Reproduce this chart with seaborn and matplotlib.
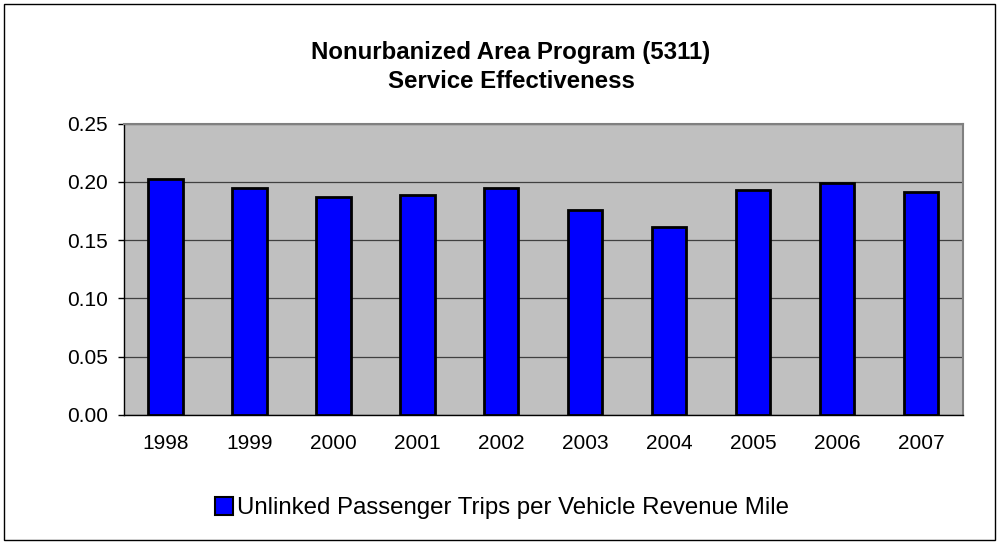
import matplotlib
matplotlib.use("Agg")
import matplotlib.pyplot as plt
import seaborn as sns
import pandas as pd
import numpy as np
from matplotlib.patches import Rectangle

years = ["1998", "1999", "2000", "2001", "2002", "2003", "2004", "2005", "2006", "2007"]
values = [0.2024, 0.1944, 0.1870, 0.1884, 0.1950, 0.1761, 0.1612, 0.1932, 0.1992, 0.1912]
series_name = "Unlinked Passenger Trips per Vehicle Revenue Mile"
title = "Nonurbanized Area Program (5311)\nService Effectiveness"
yticks = [0.00, 0.05, 0.10, 0.15, 0.20, 0.25]

sns.set_theme(style="white")
plt.rcParams['font.family'] = ['Liberation Sans', 'DejaVu Sans']
plt.rcParams['text.color'] = 'black'
plt.rcParams['xtick.color'] = 'black'
plt.rcParams['ytick.color'] = 'black'
plt.rcParams['xtick.labelcolor'] = 'black'
plt.rcParams['ytick.labelcolor'] = 'black'

df = pd.DataFrame({"year": years, "value": values})

fig = plt.figure(figsize=(9.99, 5.44), dpi=100)
fig.patch.set_facecolor("white")
ax = fig.add_axes([123.5/999, 1 - 415/544, (963-123.5)/999, (415-123.5)/544])

sns.barplot(data=df, x="year", y="value", color="#0000FF", saturation=1,
            edgecolor="black", linewidth=2, width=0.41, ax=ax, zorder=3)

ax.set_facecolor("#C0C0C0")
ax.set_ylim(0, 0.25)
ax.set_xlim(-0.5, len(years) - 0.5)
ax.set_yticks(yticks)
ax.set_yticklabels([f"{t:.2f}" for t in yticks], fontsize=15)
ax.yaxis.grid(True, color="#404040", linewidth=0.9, zorder=0)
ax.set_axisbelow(True)
ax.set_xlabel("")
ax.set_ylabel("")

ax.set_xticks(np.arange(len(years)))
ax.set_xticklabels(years, fontsize=15)
ax.set_xticks(np.arange(-0.5, len(years), 1.0), minor=True)
ax.tick_params(axis="x", which="major", length=0, pad=14)
ax.tick_params(axis="x", which="minor", length=4, width=1, color="black", direction="out")
ax.tick_params(axis="y", which="major", length=4, width=1, color="black", direction="out", pad=7, left=True)

for s in ["top", "right"]:
    ax.spines[s].set_color("#808080")
    ax.spines[s].set_linewidth(1.5)
for s in ["left", "bottom"]:
    ax.spines[s].set_color("black")
    ax.spines[s].set_linewidth(1.0)

fig.text(511/999, 1 - 67/544, title, ha="center", va="center", fontsize=17.3,
         fontweight="bold", linespacing=1.32)

handle = Rectangle((0, 0), 1, 1, facecolor="#0000FF", edgecolor="black", linewidth=1.5)
fig.legend([handle], [series_name], loc="center", bbox_to_anchor=(502/999, 1 - 508/544),
           frameon=False, fontsize=17.3, handlelength=0.75, handleheight=0.75,
           handletextpad=0.15, borderaxespad=0, borderpad=0)

border = Rectangle((4/999, 4/544), 1 - 8/999, 1 - 8/544, transform=fig.transFigure,
                   facecolor="none", edgecolor="black", linewidth=1.0)
fig.patches.append(border)

fig.savefig("out.png", dpi=100)
